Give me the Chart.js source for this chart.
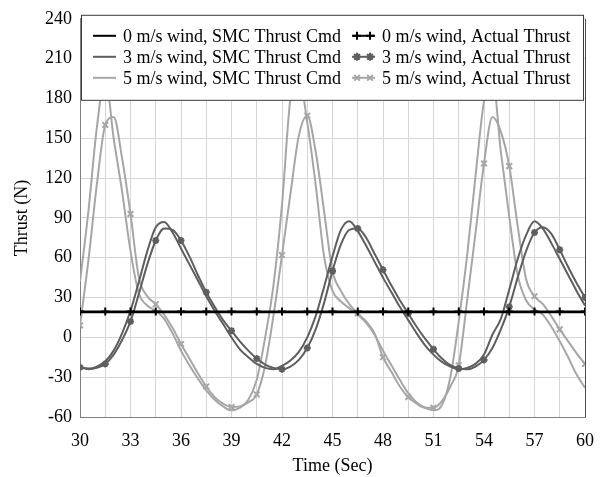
<!DOCTYPE html>
<html>
<head>
<meta charset="utf-8">
<script src="https://cdn.jsdelivr.net/npm/chart.js@4/dist/chart.umd.min.js"></script>
<style>
  body { margin: 0; background: #fff; }
  #wrap { width: 607px; height: 477px; }
</style>
</head>
<body>
<div id="wrap"><canvas id="thrustGraph"></canvas></div>
<script>
'use strict'

// Time samples (Sec)
const time = [30, 30.5, 31, 31.5, 32, 32.5, 33, 33.5, 34, 34.5, 35, 35.5, 36, 36.5, 37, 37.5, 38, 38.5, 39, 39.5,
  40, 40.5, 41, 41.5, 42, 42.5, 43, 43.5, 44, 44.5, 45, 45.5, 46, 46.5, 47, 47.5, 48, 48.5, 49, 49.5,
  50, 50.5, 51, 51.5, 52, 52.5, 53, 53.5, 54, 54.5, 55, 55.5, 56, 56.5, 57, 57.5, 58, 58.5, 59, 59.5, 60]

// Thrust (N)
const smc0 = [19, 19, 19, 19, 19, 19, 19, 19, 19, 19, 19, 19, 19, 19, 19, 19, 19, 19, 19, 19,
  19, 19, 19, 19, 19, 19, 19, 19, 19, 19, 19, 19, 19, 19, 19, 19, 19, 19, 19, 19,
  19, 19, 19, 19, 19, 19, 19, 19, 19, 19, 19, 19, 19, 19, 19, 19, 19, 19, 19, 19, 19]
const act0 = [19.5, 19.5, 19.5, 19.5, 19.5, 19.5, 19.5, 19.5, 19.5, 19.5, 19.5, 19.5, 19.5, 19.5, 19.5, 19.5, 19.5, 19.5, 19.5, 19.5,
  19.5, 19.5, 19.5, 19.5, 19.5, 19.5, 19.5, 19.5, 19.5, 19.5, 19.5, 19.5, 19.5, 19.5, 19.5, 19.5, 19.5, 19.5, 19.5, 19.5,
  19.5, 19.5, 19.5, 19.5, 19.5, 19.5, 19.5, 19.5, 19.5, 19.5, 19.5, 19.5, 19.5, 19.5, 19.5, 19.5, 19.5, 19.5, 19.5, 19.5, 19.5]
const smc3 = [-22.5, -23.5, -22, -18, -10, 3, 20, 42, 65, 83, 87, 79, 67, 55, 43, 31, 20, 10, 0, -9,
  -15, -20, -23, -24, -21.5, -17.5, -11, 0, 16, 38, 61, 81, 87.5, 80, 69, 57, 45, 34, 23, 13,
  3, -6, -13, -18.5, -22, -24, -23, -20, -13, 2, 14, 36, 59, 77, 87.5, 82, 71, 59, 47, 35, 24]
const act3 = [-22.6, -24, -23, -20, -13, -2, 12, 33, 55, 73, 82, 81, 73, 61, 47, 34, 23, 13, 5, -3,
  -10, -16, -20.5, -23, -24, -22, -17, -8, 6, 26, 50, 70, 81, 82, 75, 63, 51, 39, 28, 18,
  8, -1, -9, -16, -21, -23.5, -24, -22, -17, -8, 6, 23, 45, 65, 79, 83, 78, 66, 53, 41, 30]
const smc5 = [42, 95, 158, 196, 150, 110, 65, 33, 24, 20, 14, 3, -10, -21, -31, -40, -47, -52, -55, -53,
  -47, -32, 0, 40, 100, 180, 196, 162, 115, 61, 35, 27, 22, 17, 11, 2, -10, -21, -32, -42,
  -49, -53, -55, -51, -30, 12, 62, 122, 178, 196, 140, 91, 47, 28, 21, 17, 8, -3, -15, -28, -38]
const act5 = [9, 58, 115, 160, 166, 135, 93, 45, 31, 25, 17, 7, -5, -16, -27, -37, -45, -50, -52.5, -52,
  -49, -43, -21, 17, 62, 108, 152, 167, 140, 95, 50, 35, 25, 18, 12, 3, -15, -26, -37, -45,
  -50, -53, -53, -48, -37, -21, 28, 79, 131, 166, 155, 129, 84, 44, 31, 25, 16, 6, -3, -12, -20]

const labels = [
  '0 m/s wind, SMC Thrust Cmd', '3 m/s wind, SMC Thrust Cmd', '5 m/s wind, SMC Thrust Cmd',
  '0 m/s wind, Actual Thrust', '3 m/s wind, Actual Thrust', '5 m/s wind, Actual Thrust'
]

const BLACK = '#000000'
const DARK = '#5e5e5e'
const LIGHT = '#a6a6a6'
const FONT = "'Liberation Serif', 'Times New Roman', serif"

function pts(values) {
  return values.map((v, i) => ({x: time[i], y: v}))
}

// marker on every third sample (every 1.5 s)
function markerRadius(r) {
  return (ctx) => (ctx.dataIndex % 3 === 0 ? r : 0)
}

function lineSet(label, values, color, order) {
  return {
    label: label,
    data: pts(values),
    borderColor: color,
    backgroundColor: color,
    borderWidth: 2,
    pointRadius: 0,
    cubicInterpolationMode: 'monotone',
    order: order
  }
}

function markSet(label, values, color, style, r, order) {
  const ds = lineSet(label, values, color, order)
  ds.pointStyle = style
  ds.pointRadius = markerRadius(r)
  ds.pointBorderWidth = 2
  ds.pointBorderColor = color
  ds.pointBackgroundColor = color
  return ds
}

function drawMark(ctx, style, x, y, r) {
  ctx.beginPath()
  if (style === 'cross' || style === 'star') {
    ctx.moveTo(x - r, y); ctx.lineTo(x + r, y)
    ctx.moveTo(x, y - r); ctx.lineTo(x, y + r)
  }
  if (style === 'crossRot' || style === 'star') {
    const d = r * Math.SQRT1_2
    ctx.moveTo(x - d, y - d); ctx.lineTo(x + d, y + d)
    ctx.moveTo(x - d, y + d); ctx.lineTo(x + d, y - d)
  }
  ctx.stroke()
}

// legend box drawn over the plot, like the original
const boxLegend = {
  id: 'boxLegend',
  afterDatasetsDraw(chart) {
    const {ctx, chartArea} = chart
    const left = chartArea.left + 1
    const right = chartArea.right - 1
    const top = chartArea.top - 4
    const bottom = top + 86
    ctx.save()
    ctx.fillStyle = '#ffffff'
    ctx.fillRect(left, top, right - left, bottom - top)
    ctx.strokeStyle = '#3a3a3a'
    ctx.lineWidth = 1
    ctx.strokeRect(left + 0.5, top + 0.5, right - left - 1, bottom - top - 1)

    const rows = [top + 21, top + 42, top + 63]
    const cols = [left + 12, left + 271]
    const colors = [BLACK, DARK, LIGHT]
    const styles = ['cross', 'star', 'crossRot']
    ctx.font = '18px ' + FONT
    ctx.textBaseline = 'middle'
    ctx.textAlign = 'left'
    for (let c = 0; c < 2; c++) {
      for (let r = 0; r < 3; r++) {
        const x = cols[c]
        const y = rows[r]
        ctx.strokeStyle = colors[r]
        ctx.fillStyle = colors[r]
        ctx.lineWidth = 2
        ctx.beginPath()
        ctx.moveTo(x, y)
        ctx.lineTo(x + 23, y)
        ctx.stroke()
        if (c === 1) {
          drawMark(ctx, styles[r], x + 5, y, 4)
          drawMark(ctx, styles[r], x + 18, y, 4)
        }
        ctx.fillStyle = '#000000'
        ctx.fillText(labels[c * 3 + r], x + 30, y + 1)
      }
    }
    ctx.restore()
  }
}

const thrustChart = new Chart(
  document.getElementById('thrustGraph'),
  {
    type: 'line',
    data: {
      datasets: [
        lineSet(labels[0], smc0, BLACK, 0),
        lineSet(labels[1], smc3, DARK, 2),
        lineSet(labels[2], smc5, LIGHT, 4),
        markSet(labels[3], act0, BLACK, 'cross', 4, 1),
        markSet(labels[4], act3, DARK, 'star', 3.5, 3),
        markSet(labels[5], act5, LIGHT, 'crossRot', 4, 5)
      ]
    },
    options: {
      responsive: true,
      maintainAspectRatio: false,
      animation: false,
      layout: {
        padding: {top: 18, right: 20, left: 0, bottom: 0}
      },
      scales: {
        x: {
          type: 'linear',
          min: 30,
          max: 60,
          afterFit: (scale) => { scale.height = 60 },
          ticks: {
            stepSize: 1.5,
            autoSkip: false,
            maxRotation: 0,
            padding: 13,
            color: '#000',
            font: {family: FONT, size: 18},
            callback: (v) => (v % 3 === 0 ? v : '')
          },
          grid: {
            drawTicks: false,
            color: (ctx) => (ctx.tick && ctx.tick.value === 60 ? '#4d4d4d' : '#d6d6d6')
          },
          border: {color: '#808080', width: 1},
          title: {
            display: true,
            text: 'Time (Sec)',
            color: '#000',
            font: {family: FONT, size: 18, lineHeight: 1.2},
            padding: {top: 0, bottom: 0}
          }
        },
        y: {
          min: -60,
          max: 240,
          afterFit: (scale) => { scale.width = 80 },
          ticks: {
            stepSize: 15,
            padding: 8,
            color: '#000',
            font: {family: FONT, size: 18},
            callback: (v) => (v % 30 === 0 ? v : '')
          },
          grid: {
            drawTicks: false,
            color: '#d6d6d6'
          },
          border: {color: '#808080', width: 1},
          title: {
            display: true,
            text: 'Thrust (N)',
            color: '#000',
            font: {family: FONT, size: 18, lineHeight: 1.2},
            padding: {top: 11, bottom: 0}
          }
        }
      },
      plugins: {
        legend: {display: false},
        tooltip: {enabled: false}
      }
    },
    plugins: [boxLegend]
  }
)
</script>
</body>
</html>
